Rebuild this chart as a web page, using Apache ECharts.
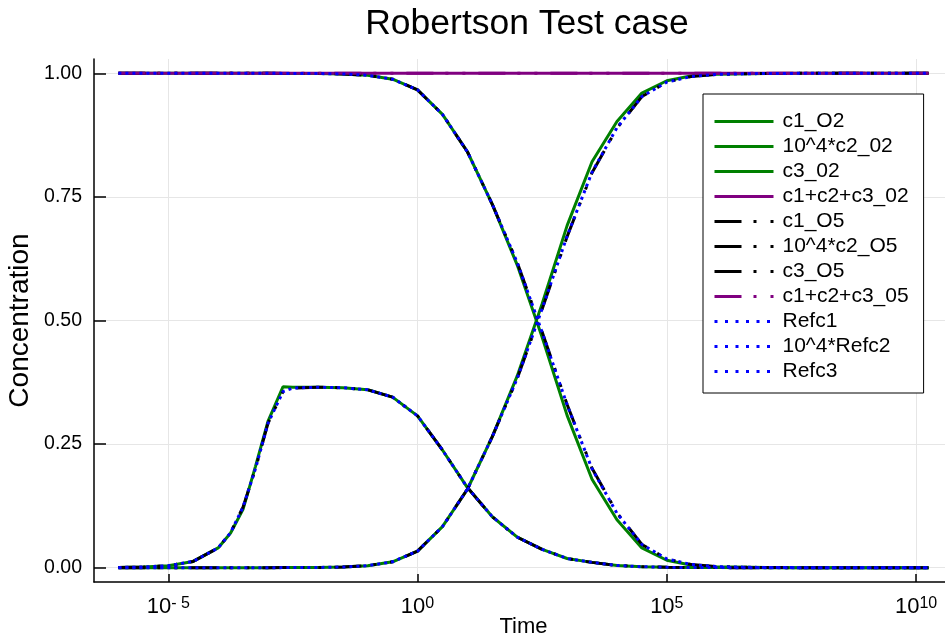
<!DOCTYPE html>
<html>
<head>
<meta charset="utf-8">
<script src="https://cdn.jsdelivr.net/npm/echarts@6/dist/echarts.min.js"></script>
<style>
html,body{margin:0;padding:0;background:#fff}
#main{width:945px;height:639px}
</style>
</head>
<body>
<div id="main"></div>
<script>
// time points (s)
var times=[1e-6,3.16e-6,1e-5,3.16e-5,1e-4,1.78e-4,3.16e-4,5.62e-4,1e-3,2e-3,3.16e-3,1e-2,3.16e-2,0.1,0.316,1,3.16,10,31.6,100,316,1000,3162,1e4,3.16e4,1e5,3.16e5,1e6,1e7,1e8,1e9,1e10,1.78e10];
// order 2 solver
var c1O2=[1,1,1,1,1,1,1,1,1,0.9999,0.9999,0.9996,0.9987,0.996,0.9882,0.9665,0.917,0.8414,0.735,0.612,0.466,0.308,0.179,0.097,0.04,0.015,0.005,0.0017,0.0002,0,0,0,0];
var c2O2=[0.0004,0.0013,0.004,0.0126,0.0399,0.07,0.118,0.205,0.296,0.366,0.365,0.365,0.364,0.36,0.345,0.307,0.238,0.162,0.103,0.0616,0.037,0.0185,0.0107,0.0045,0.0019,0.0007,0.0002,0.0001,0,0,0,0,0];
var c3O2=[0,0,0,0,0,0,0,0,0,0.0001,0.0001,0.0004,0.0013,0.004,0.0118,0.0335,0.083,0.1586,0.265,0.388,0.534,0.692,0.821,0.9025,0.96,0.985,0.995,0.9983,0.9998,1,1,1,1];
var sumO2=[1,1,1,1,1,1,1,1,1,1,1,1,1,1,1,1,1,1,1,1,1,1,1,1,1,1,1,1,1,1,1,1,1];
// order 5 solver
var c1O5=[1,1,1,1,1,1,1,1,1,0.9999,0.9999,0.9996,0.9987,0.996,0.9882,0.9665,0.917,0.8414,0.735,0.6172,0.477,0.33,0.201,0.111,0.047,0.0177,0.0062,0.0021,0.0002,0,0,0,0];
var c2O5=[0.0004,0.0013,0.004,0.0126,0.0399,0.0708,0.1225,0.2003,0.292,0.356,0.3635,0.365,0.364,0.36,0.345,0.307,0.238,0.162,0.103,0.0616,0.037,0.0185,0.0107,0.0045,0.0019,0.0007,0.0002,0.0001,0,0,0,0,0];
var c3O5=[0,0,0,0,0,0,0,0,0,0.0001,0.0001,0.0004,0.0013,0.004,0.0118,0.0335,0.083,0.1586,0.265,0.3828,0.523,0.6697,0.799,0.889,0.953,0.9823,0.9938,0.9979,0.9998,1,1,1,1];
var sumO5=[1,1,1,1,1,1,1,1,1,1,1,1,1,1,1,1,1,1,1,1,1,1,1,1,1,1,1,1,1,1,1,1,1];
// reference solution
var c1Ref=[1,1,1,1,1,1,1,1,1,0.9999,0.9999,0.9996,0.9987,0.996,0.9882,0.9665,0.917,0.8414,0.735,0.6172,0.476,0.3294,0.2,0.11,0.047,0.0177,0.0062,0.0021,0.0002,0,0,0,0];
var c2Ref=[0.0004,0.0013,0.004,0.0126,0.0399,0.0708,0.1225,0.2003,0.292,0.356,0.3635,0.365,0.364,0.36,0.345,0.307,0.238,0.162,0.103,0.0616,0.037,0.0185,0.0107,0.0045,0.0019,0.0007,0.0002,0.0001,0,0,0,0,0];
var c3Ref=[0,0,0,0,0,0,0,0,0,0.0001,0.0001,0.0004,0.0013,0.004,0.0118,0.0335,0.083,0.1586,0.265,0.3828,0.524,0.6706,0.8,0.89,0.953,0.9823,0.9938,0.9979,0.9998,1,1,1,1];

var xTicks=[1e-5,1,1e5,1e10];
var yTicks=[0,0.25,0.5,0.75,1];

var font='Liberation Sans';
var green='#008000',purple='#800080',black='#000000',blue='#0000ff';
var solid='solid',dashDot=[27,12,3,14,3,13],dotted=[3,4];

function line(name,vals,color,type){
    return {
        name:name,type:'line',symbol:'none',showSymbol:false,animation:false,
        data:times.map(function(t,i){return [t,vals[i]];}),
        lineStyle:{color:color,width:3,type:type,cap:'butt'},
        itemStyle:{color:color},
        emphasis:{disabled:true}
    };
}

var series=[
    line('c1_O2',c1O2,green,solid),
    line('10^4*c2_02',c2O2,green,solid),
    line('c3_02',c3O2,green,solid),
    line('c1+c2+c3_02',sumO2,purple,solid),
    line('c1_O5',c1O5,black,dashDot),
    line('10^4*c2_O5',c2O5,black,dashDot),
    line('c3_O5',c3O5,black,dashDot),
    line('c1+c2+c3_05',sumO5,purple,dashDot),
    line('Refc1',c1Ref,blue,dotted),
    line('10^4*Refc2',c2Ref,blue,dotted),
    line('Refc3',c3Ref,blue,dotted)
];

// legend: line only, no marker
var legendData=series.map(function(s){
    var lt=s.lineStyle.type===dotted?[3,7.5]:s.lineStyle.type;
    return {name:s.name,lineStyle:{type:lt,width:3},itemStyle:{color:'rgba(0,0,0,0)',borderWidth:0,opacity:0}};
});

var myChart=echarts.init(document.getElementById('main'),null,{renderer:'canvas'});
var option={
    animation:false,
    backgroundColor:'#fff',
    title:{
        text:'Robertson Test case',left:522,textAlign:'center',top:1,
        textStyle:{fontFamily:font,fontSize:35.5,fontWeight:'normal',color:'#000'}
    },
    grid:{left:94,right:-8,top:59,bottom:57,containLabel:false,outerBoundsMode:'none'},
    legend:{
        orient:'vertical',left:703,top:94,
        itemWidth:59,itemHeight:14,itemGap:4,
        padding:[17,15,11,10],
        backgroundColor:'#fff',borderColor:'#000',borderWidth:1,borderRadius:0,
        selectedMode:false,
        itemStyle:{color:'rgba(0,0,0,0)',borderWidth:0,opacity:0},
        textStyle:{fontFamily:font,fontSize:21,color:'#000',width:133,padding:[0,0,0,4]},
        data:legendData
    },
    xAxis:{
        type:'log',logBase:10,min:3.24e-7,max:5.5e10,
        name:'Time',nameLocation:'middle',nameGap:34,nameMoveOverlap:false,
        nameTextStyle:{fontFamily:font,fontSize:22,color:'#000'},
        axisLine:{show:true,onZero:false,lineStyle:{color:'#000',width:1.5}},
        axisTick:{show:true,inside:true,length:8,customValues:xTicks,lineStyle:{color:'#000',width:1.5}},
        axisLabel:{
            customValues:xTicks,margin:14,
            formatter:function(v){
                var e=Math.round(Math.log(v)/Math.LN10);
                var s=e<0?'- '+(-e):''+e;
                return '{b|10}{s|'+s+'}';
            },
            rich:{
                b:{fontFamily:font,fontSize:22,color:'#000',lineHeight:22},
                s:{fontFamily:font,fontSize:16,color:'#000',verticalAlign:'top',lineHeight:12}
            }
        },
        splitLine:{show:true,lineStyle:{color:'#e6e6e6',width:1}},
        minorTick:{show:false},minorSplitLine:{show:false}
    },
    yAxis:{
        type:'value',min:-0.029,max:1.029,
        name:'Concentration',nameLocation:'middle',nameGap:60,nameRotate:90,nameMoveOverlap:false,
        nameTextStyle:{fontFamily:font,fontSize:28,color:'#000'},
        axisLine:{show:true,onZero:false,lineStyle:{color:'#000',width:1.5}},
        axisTick:{show:true,inside:true,length:12,customValues:yTicks,lineStyle:{color:'#000',width:1.5}},
        axisLabel:{
            customValues:yTicks,margin:12,
            fontFamily:font,fontSize:19.5,color:'#000',
            formatter:function(v){return v.toFixed(2);}
        },
        splitLine:{show:true,lineStyle:{color:'#e6e6e6',width:1}}
    },
    series:series
};
myChart.setOption(option);
</script>
</body>
</html>
